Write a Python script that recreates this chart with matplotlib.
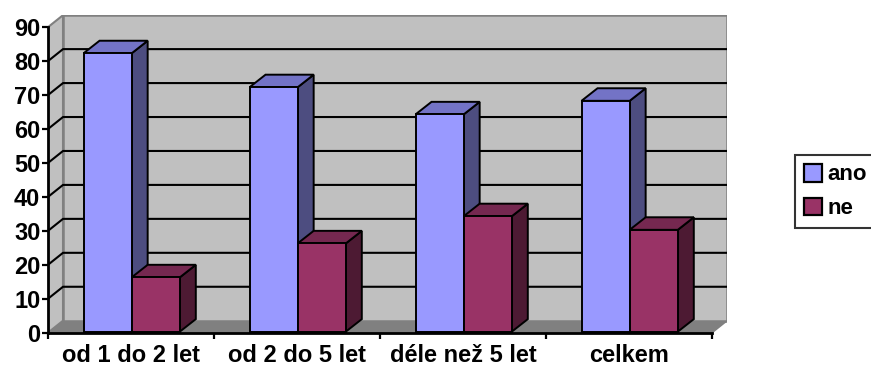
import matplotlib
matplotlib.use("Agg")
import matplotlib.pyplot as plt
from matplotlib.patches import Polygon, Patch

# Data
categories = ["od 1 do 2 let", "od 2 do 5 let", "déle než 5 let", "celkem"]
series_names = ["ano", "ne"]
ano = [82, 72, 64, 68]
ne = [16, 26, 34, 30]
yticks = [0, 10, 20, 30, 40, 50, 60, 70, 80, 90]

# Styling
front_colors = ["#9999FF", "#993366"]
top_colors = ["#7373C6", "#752850"]
side_colors = ["#4D4D80", "#4D1A33"]
wall_color = "#C0C0C0"
floor_color = "#808080"
edge_gray = "#808080"

plt.rcParams["font.family"] = ["Liberation Sans", "DejaVu Sans"]
plt.rcParams["font.weight"] = "bold"

W, H = 871, 370
fig = plt.figure(figsize=(W / 100, H / 100), dpi=100)
ax = fig.add_axes([48 / W, (H - 332.7) / H, 679 / W, 317.7 / H])

ymax = 90
wall_dx, wall_dy = 0.0904, 3.53     # depth of the walls in data units
bar_dx, bar_dy = 0.0964, 3.7        # depth of each column
bar_ox, bar_oy = 0.004, 0.3         # columns sit slightly behind the front edge
bar_w = 0.29
ncat = len(categories)

ax.set_xlim(0, ncat + wall_dx)
ax.set_ylim(0, ymax + wall_dy + 0.05)

# Floor
ax.add_patch(Polygon([(0, 0), (ncat, 0), (ncat + wall_dx, wall_dy), (wall_dx, wall_dy)],
                     closed=True, facecolor=floor_color, edgecolor=edge_gray, lw=1.2, zorder=1))
# Left side wall
ax.add_patch(Polygon([(0, 0), (wall_dx, wall_dy), (wall_dx, ymax + wall_dy), (0, ymax)],
                     closed=True, facecolor=wall_color, edgecolor=edge_gray, lw=1.5, zorder=1))
# Back wall
ax.add_patch(Polygon([(wall_dx, wall_dy), (ncat + wall_dx, wall_dy),
                      (ncat + wall_dx, ymax + wall_dy), (wall_dx, ymax + wall_dy)],
                     closed=True, facecolor=wall_color, edgecolor=edge_gray, lw=1.8, zorder=1))

# Gridlines on back and side walls
for v in yticks[1:-1]:
    ax.plot([0, wall_dx, ncat + wall_dx], [v, v + wall_dy, v + wall_dy],
            color="black", lw=1.5, zorder=1.5, solid_capstyle="butt")

# Columns
for i in range(ncat):
    for s, vals in enumerate([ano, ne]):
        v = vals[i]
        x0 = i + 0.5 - bar_w + s * bar_w + bar_ox
        x1 = x0 + bar_w
        y0 = bar_oy
        y1 = v + bar_oy
        kw = dict(closed=True, edgecolor="black", lw=1.4, joinstyle="miter", zorder=3)
        ax.add_patch(Polygon([(x1, y0), (x1 + bar_dx, y0 + bar_dy), (x1 + bar_dx, y1 + bar_dy), (x1, y1)],
                             facecolor=side_colors[s], **kw))
        ax.add_patch(Polygon([(x0, y1), (x1, y1), (x1 + bar_dx, y1 + bar_dy), (x0 + bar_dx, y1 + bar_dy)],
                             facecolor=top_colors[s], **kw))
        ax.add_patch(Polygon([(x0, y0), (x1, y0), (x1, y1), (x0, y1)],
                             facecolor=front_colors[s], **kw))

# Axes
for side in ["top", "right"]:
    ax.spines[side].set_visible(False)
ax.spines["left"].set_bounds(0, ymax)
ax.spines["bottom"].set_bounds(0, ncat)
for side in ["left", "bottom"]:
    ax.spines[side].set_linewidth(2)
    ax.spines[side].set_zorder(4)

ax.set_yticks(yticks)
ax.set_yticklabels([str(t) for t in yticks], fontsize=17, fontweight="bold")
ax.tick_params(axis="y", direction="out", length=4.5, width=1.6, pad=1)

ax.set_xticks(range(ncat + 1))
ax.set_xticklabels([])
ax.set_xticks([i + 0.5 for i in range(ncat)], minor=True)
ax.set_xticklabels(categories, minor=True, fontsize=17, fontweight="bold")
ax.tick_params(axis="x", which="major", direction="out", length=4.5, width=1.6)
ax.tick_params(axis="x", which="minor", length=0, pad=8)

# Legend
handles = [Patch(facecolor=front_colors[k], edgecolor="black", lw=1.6, label=series_names[k])
           for k in range(2)]
leg = fig.legend(handles=handles, loc="upper left", bbox_to_anchor=(795 / W, 1 - 155 / H),
                 frameon=True, fancybox=False, shadow=False, borderaxespad=0,
                 handlelength=0.8, handleheight=0.85, handletextpad=0.25,
                 borderpad=0.4, labelspacing=0.55, prop={"size": 16, "weight": "bold"})
leg.get_frame().set_edgecolor("black")
leg.get_frame().set_linewidth(1.5)

fig.savefig("out.png", dpi=100)
